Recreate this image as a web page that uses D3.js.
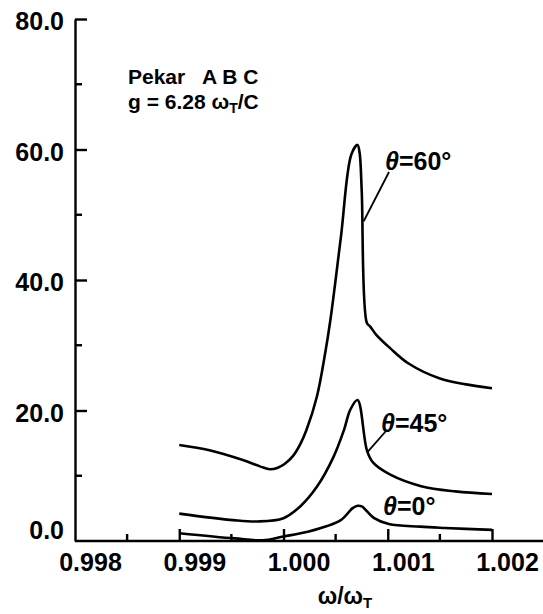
<!DOCTYPE html>
<html>
<head>
<meta charset="utf-8">
<script src="https://cdn.jsdelivr.net/npm/d3@7"></script>
<style>
  body { margin: 0; background: #fff; }
  svg { display: block; font-family: "Liberation Sans", Arial, sans-serif; }
  .axis path, .axis line { stroke: #000; stroke-width: 2.4; }
  .axis text { font-size: 25px; font-weight: bold; fill: #000; }
  .curve { fill: none; stroke: #000; stroke-width: 2.6; stroke-linejoin: round; }
  .note { font-size: 21px; font-weight: bold; fill: #000; }
</style>
</head>
<body>
<div id="chart"></div>
<script>
// tick values
var xTicks = [0.998, 0.999, 1.000, 1.001, 1.002]
var xMinor = [0.9985, 0.9995, 1.0005, 1.0015]
var yTicks = [0, 20, 40, 60, 80]
var yMinor = [10, 30, 50, 70]

// curves: [omega/omegaT, value]
var theta60 = [
  [0.99900, 14.7], [0.99929, 13.9], [0.99961, 12.4], [0.99978, 11.4], [0.99987, 11.0],
  [0.99994, 11.2], [1.00001, 11.8], [1.00009, 13.0], [1.00016, 14.8], [1.00022, 17.0],
  [1.00032, 22.1], [1.00040, 28.8], [1.00045, 33.9],
  [1.00055, 46.5], [1.00065, 59.2], [1.00071, 60.7], [1.00073, 59.5], [1.00075, 53.8],
  [1.00080, 33.4], [1.00083, 32.9], [1.00089, 31.6], [1.00102, 29.6], [1.00120, 27.2],
  [1.00150, 24.9], [1.00175, 24.0], [1.00200, 23.4]
]
var theta45 = [
  [0.99900, 4.2], [0.99952, 3.2], [0.99975, 3.0], [1.00000, 3.5], [1.00016, 5.3],
  [1.00032, 8.3], [1.00048, 12.9], [1.00058, 17.0], [1.00064, 20.1], [1.00071, 21.6],
  [1.00080, 13.9], [1.00086, 12.0], [1.00102, 10.2], [1.00132, 8.4],
  [1.00165, 7.6], [1.00200, 7.2]
]
var theta0 = [
  [0.99900, 1.2], [0.99953, 0.4], [0.99980, 0.1], [1.00000, 0.7], [1.00023, 1.4],
  [1.00055, 3.2], [1.00066, 5.0], [1.00071, 5.4], [1.00075, 5.3], [1.00087, 3.5],
  [1.00101, 2.6], [1.00131, 2.2], [1.00155, 2.0], [1.00200, 1.7]
]

var width = 543, height = 614

var x = d3.scaleLinear().domain([0.998, 1.002]).range([75, 492])
var y = d3.scaleLinear().domain([0, 80]).range([541, 19])

var svg = d3.select("#chart").append("svg")
  .attr("width", width)
  .attr("height", height)

// x axis
var xAxis = svg.append("g")
  .attr("class", "axis")
  .attr("transform", "translate(0," + y(0) + ")")
  .call(d3.axisBottom(x).tickValues(xTicks).tickSize(-12).tickSizeOuter(0)
    .tickFormat(d3.format(".3f")))
xAxis.select(".domain").remove()
xAxis.append("line").attr("x1", x(0.998)).attr("x2", width).attr("y1", 0).attr("y2", 0)
xAxis.selectAll(".tick").filter(function(d) { return d === 0.998 }).select("line").remove()
xAxis.selectAll(".tick text").attr("y", 12).attr("dy", "0.71em").attr("dx", 15)
xAxis.selectAll(".minor").data(xMinor).enter().append("line")
  .attr("x1", function(d) { return x(d) }).attr("x2", function(d) { return x(d) })
  .attr("y1", 0).attr("y2", -7)

// y axis
var yAxis = svg.append("g")
  .attr("class", "axis")
  .attr("transform", "translate(" + x(0.998) + ",0)")
  .call(d3.axisLeft(y).tickValues(yTicks).tickSize(-12).tickSizeOuter(0)
    .tickFormat(d3.format(".1f")))
yAxis.selectAll(".tick text").attr("x", -11).attr("dy", function(d) { return d === 0 ? "-0.12em" : "0.42em" })
yAxis.selectAll(".tick").filter(function(d) { return d === 0 }).select("line").remove()
yAxis.selectAll(".minor").data(yMinor).enter().append("line")
  .attr("y1", function(d) { return y(d) }).attr("y2", function(d) { return y(d) })
  .attr("x1", 0).attr("x2", 7)

// axis title
var title = svg.append("text")
  .attr("x", 345).attr("y", 604)
  .attr("text-anchor", "middle")
  .style("font-size", "23px").style("font-weight", "bold")
title.append("tspan").text("ω/ω")
title.append("tspan").attr("dy", 4).style("font-size", "15px").text("T")

// curves
var line = d3.line()
  .x(function(d) { return x(d[0]) })
  .y(function(d) { return y(d[1]) })
  .curve(d3.curveCatmullRom.alpha(0.5))

;[theta60, theta45, theta0].forEach(function(s) {
  svg.append("path").attr("class", "curve").attr("d", line(s))
})

// notes
svg.append("text").attr("class", "note").attr("x", 128).attr("y", 84)
  .attr("xml:space", "preserve").text("Pekar   A B C")
var g = svg.append("text").attr("class", "note").attr("x", 128).attr("y", 109)
g.append("tspan").text("g = 6.28 ω")
g.append("tspan").attr("dy", 4).style("font-size", "14px").text("T")
g.append("tspan").attr("dy", -4).text("/C")

// curve labels with leader lines
var labels = [
  { text: "60°", lx: 385, ly: 170, from: [1.00075, 49], to: [389, 172] },
  { text: "45°", lx: 381, ly: 432, from: [1.00079, 13.7], to: [386, 431] },
  { text: "0°",  lx: 383, ly: 515 }
]
labels.forEach(function(l) {
  var t = svg.append("text").attr("class", "note")
    .style("font-size", "25px").attr("x", l.lx).attr("y", l.ly)
  t.append("tspan").style("font-style", "italic").text("θ")
  t.append("tspan").text("=" + l.text)
  if (l.from) {
    svg.append("line")
      .attr("x1", x(l.from[0]) + 2).attr("y1", y(l.from[1]))
      .attr("x2", l.to[0]).attr("y2", l.to[1])
      .attr("stroke", "#000").attr("stroke-width", 1.8)
  }
})
</script>
</body>
</html>
